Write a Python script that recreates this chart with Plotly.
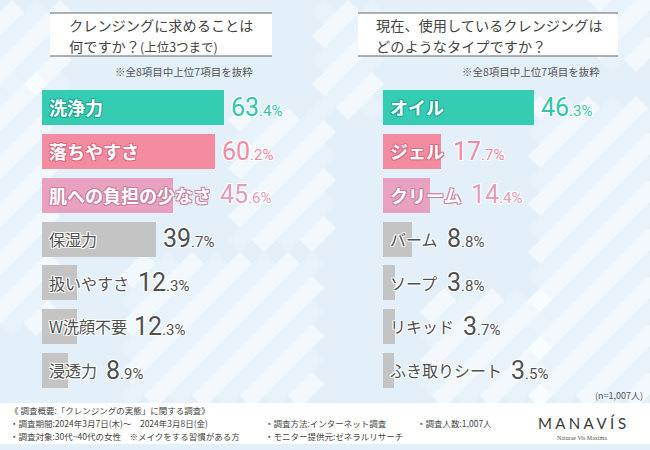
import plotly.graph_objects as go

# data
left_labels = ["洗浄力", "落ちやすさ", "肌への負担の少なさ", "保湿力", "扱いやすさ", "W洗顔不要", "浸透力"]
left_values = [63.4, 60.2, 45.6, 39.7, 12.3, 12.3, 8.9]
right_labels = ["オイル", "ジェル", "クリーム", "バーム", "ソープ", "リキッド", "ふき取りシート"]
right_values = [46.3, 17.7, 14.4, 8.8, 3.8, 3.7, 3.5]

bar_colors = ["#34ccb3", "#f48ba1", "#e8a2bf", "#c4c4c4", "#c4c4c4", "#c4c4c4", "#c4c4c4"]
value_colors = ["#2fc6ad", "#f28aa0", "#e39cba", "#505050", "#505050", "#505050", "#505050"]
outline_colors = ["#22a893", "#d96c84", "#c97f9f", "white", "white", "white", "white"]

W, H = 650, 450
FONT = "Noto Sans CJK JP, Noto Sans, sans-serif"


def px(x):
    return x / W


def py(y):
    return 1 - y / H


def outline(c):
    return f"1px 1px 0 {c}, -1px -1px 0 {c}, 1px -1px 0 {c}, -1px 1px 0 {c}"


def text_w(s, size):
    return sum(size if ord(ch) > 255 else 0.75 * size for ch in s)


# panel geometry (pixels)
left_x0, left_x1, left_scale = 42, 325, 2.87
right_x0, right_x1, right_scale = 383, 650, 3.27
row_top, row_bottom = 85.6, 391.9

fig = go.Figure()
fig.add_trace(go.Bar(y=left_labels, x=left_values, orientation="h", width=0.8,
                     marker=dict(color=bar_colors, line=dict(width=0)),
                     xaxis="x", yaxis="y", hoverinfo="skip"))
fig.add_trace(go.Bar(y=right_labels, x=right_values, orientation="h", width=0.8,
                     marker=dict(color=bar_colors, line=dict(width=0)),
                     xaxis="x2", yaxis="y2", hoverinfo="skip"))

# background diamonds
shapes = []
h = 12
regions = [(0, 90, 48, 335), (0, 15, 60, 90), (140, 275, 320, 400), (330, 20, 380, 110),
           (548, 110, 650, 400), (600, 0, 650, 60), (440, 300, 540, 400), (240, 120, 330, 250)]
for (rx0, ry0, rx1, ry1) in regions:
    for i in range(int(rx0 / h), int(rx1 / h) + 1):
        for j in range(int(ry0 / h), int(ry1 / h) + 1):
            if (i + j) % 2:
                continue
            cx, cy = i * h, j * h
            op = [0.15, 0.35, 0.55, 0.0][(i * 7 + j * 3) % 4]
            if op == 0:
                continue
            path = (f"M {px(cx - h)} {py(cy)} L {px(cx)} {py(cy - h)} "
                    f"L {px(cx + h)} {py(cy)} L {px(cx)} {py(cy + h)} Z")
            shapes.append(dict(type="path", path=path, xref="paper", yref="paper",
                               fillcolor="white", opacity=op, line=dict(width=0), layer="below"))

# title boxes and footer band
for bx0, bx1 in [(50, 272), (358, 618)]:
    shapes.append(dict(type="rect", xref="paper", yref="paper", x0=px(bx0), x1=px(bx1),
                       y0=py(56), y1=py(13), fillcolor="white", line=dict(width=0), layer="below"))
    for ly in (13, 56):
        shapes.append(dict(type="line", xref="paper", yref="paper", x0=px(bx0), x1=px(bx1),
                           y0=py(ly), y1=py(ly), line=dict(color="#666666", width=1.2)))
shapes.append(dict(type="rect", xref="paper", yref="paper", x0=0, x1=1, y0=py(444), y1=py(403),
                   fillcolor="white", line=dict(width=0), layer="below"))

annotations = []


def add_panel(labels, values, xref, yref, scale):
    for i, (lab, val) in enumerate(zip(labels, values)):
        top = i < 3
        size = 18 if top else 16
        annotations.append(dict(
            x=0, y=lab, xref=xref, yref=yref, xanchor="left", yanchor="middle", xshift=5,
            text=f"<b>{lab}</b>" if top else lab, showarrow=False,
            font=dict(family=FONT, size=size, color="white" if top else "#505050",
                      shadow=outline(outline_colors[i]))))
        bar_px = val * scale
        label_end = 6 + text_w(lab, size) + 3
        shift = max(bar_px, label_end) - bar_px + 5
        whole, frac = f"{val:.1f}".split(".")
        annotations.append(dict(
            x=val, y=lab, xref=xref, yref=yref, xanchor="left", yanchor="middle", xshift=shift,
            text=f"{whole}<span style='font-size:15px'>.{frac}%</span>", showarrow=False,
            font=dict(family="Roboto, sans-serif", size=25, color=value_colors[i],
                      shadow=outline("white"))))


add_panel(left_labels, left_values, "x", "y", left_scale)
add_panel(right_labels, right_values, "x2", "y2", right_scale)


def note(text, x, y, size, color="#444444", anchor="left", family=FONT):
    annotations.append(dict(x=px(x), y=py(y), xref="paper", yref="paper", xanchor=anchor,
                            yanchor="middle", align=anchor,
                            text=text, showarrow=False,
                            font=dict(family=family, size=size, color=color)))


# titles
note("クレンジングに求めることは", 67, 25.5, 14.2)
note("何ですか？<span style='font-size:12.5px'>(上位3つまで)</span>", 67, 45.5, 14.2)
note("現在、使用しているクレンジングは", 374, 25.5, 14.2)
note("どのようなタイプですか？", 374, 45.5, 14.2)
note("※全8項目中上位7項目を抜粋", 255, 71, 10.5, "#555555", "right")
note("※全8項目中上位7項目を抜粋", 602, 71, 10.5, "#555555", "right")
note("(n=1,007人)", 645, 395, 9, "#555555", "right")

# footer
note("《 調査概要:「クレンジングの実態」に関する調査》", 8, 410, 8.5)
note("・調査期間:2024年3月7日(木)～　2024年3月8日(金)", 8, 423, 8.5)
note("・調査対象:30代~40代の女性　※メイクをする習慣がある方", 8, 436, 8.5)
note("・調査方法:インターネット調査", 263, 423, 8.5)
note("・モニター提供元:ゼネラルリサーチ", 263, 436, 8.5)
note("・調査人数:1,007人", 415, 423, 8.5)
note("M A N A V Í S", 582, 423, 15, "#3a3a3a", "center", "Lato, sans-serif")
note("Naturae Vis Maxima", 582, 438, 6, "#555555", "center", "Liberation Serif, serif")

axis_off = dict(visible=False, showgrid=False, zeroline=False, showticklabels=False, fixedrange=True)
ydom = [py(row_bottom), py(row_top)]

fig.update_layout(
    width=W, height=H,
    margin=dict(l=0, r=0, t=0, b=0),
    paper_bgcolor="#e3f0f9",
    plot_bgcolor="rgba(0,0,0,0)",
    showlegend=False,
    bargap=0,
    shapes=shapes,
    annotations=annotations,
    xaxis=dict(domain=[px(left_x0), px(left_x1)],
               range=[0, (left_x1 - left_x0) / left_scale], anchor="y", **axis_off),
    yaxis=dict(domain=ydom, type="category", categoryorder="array", categoryarray=left_labels,
               range=[6.5, -0.5], anchor="x", **axis_off),
    xaxis2=dict(domain=[px(right_x0), px(right_x1)],
                range=[0, (right_x1 - right_x0) / right_scale], anchor="y2", **axis_off),
    yaxis2=dict(domain=ydom, type="category", categoryorder="array", categoryarray=right_labels,
                range=[6.5, -0.5], anchor="x2", **axis_off),
)

# drop the page's default body margin so the 650x450 figure fills the window
fig.write_html("out.html", config={"displayModeBar": False},
               post_script="document.body.style.margin='0';")
